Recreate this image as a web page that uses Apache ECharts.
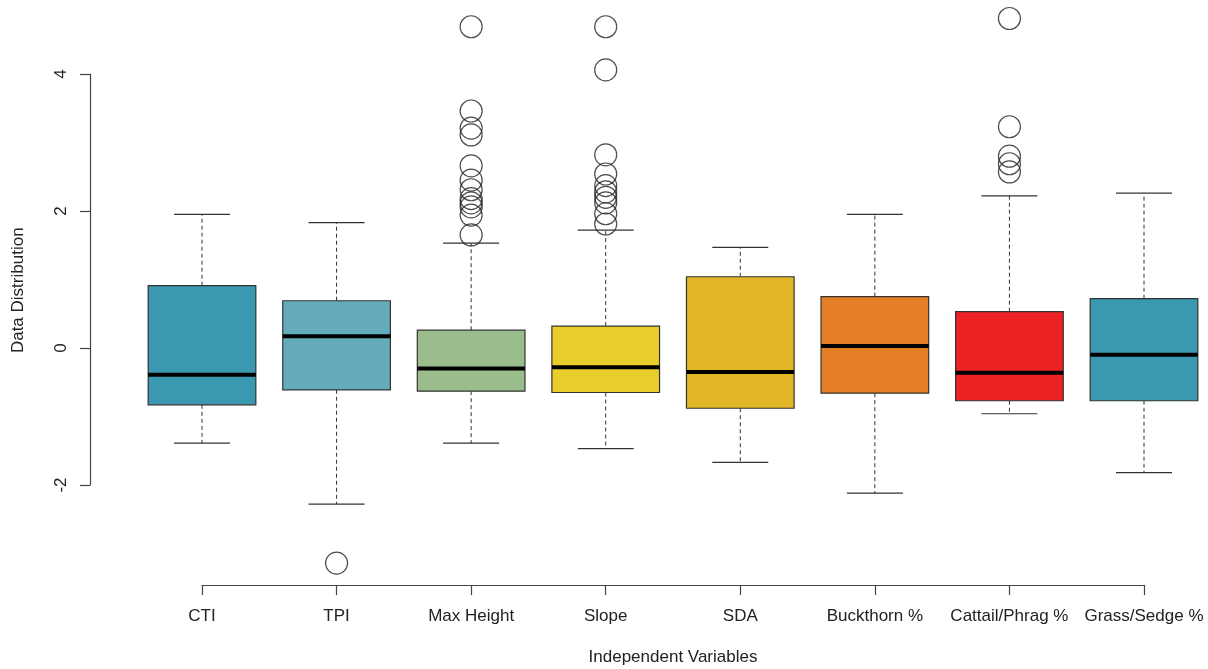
<!DOCTYPE html>
<html>
<head>
<meta charset="utf-8">
<script src="https://cdn.jsdelivr.net/npm/echarts@6/dist/echarts.min.js"></script>
<style>
  html, body { margin: 0; padding: 0; background: #fff; }
  #chart { width: 1208px; height: 669px; }
</style>
</head>
<body>
<div id="chart"></div>
<script>
// Standardised predictor distributions
const categories = ['CTI', 'TPI', 'Max Height', 'Slope', 'SDA', 'Buckthorn %', 'Cattail/Phrag %', 'Grass/Sedge %'];
const lowerWhisker = [-1.39, -2.28, -1.39, -1.47, -1.67, -2.12, -0.96, -1.82];
const lowerQuartile = [-0.83, -0.61, -0.63, -0.65, -0.88, -0.66, -0.77, -0.77];
const medians = [-0.39, 0.17, -0.30, -0.28, -0.35, 0.03, -0.36, -0.10];
const upperQuartile = [0.91, 0.69, 0.26, 0.32, 1.04, 0.75, 0.53, 0.72];
const upperWhisker = [1.95, 1.83, 1.53, 1.72, 1.47, 1.95, 2.22, 2.26];
const outliers = {
  'TPI': [-3.14],
  'Max Height': [4.69, 3.46, 3.21, 3.11, 2.66, 2.45, 2.31, 2.18, 2.12, 2.06, 1.94, 1.65],
  'Slope': [4.69, 4.06, 2.82, 2.54, 2.37, 2.28, 2.20, 2.12, 1.96, 1.81],
  'Cattail/Phrag %': [4.81, 3.23, 2.80, 2.69, 2.57]
};
const yTicks = [-2, 0, 2, 4];

const boxColors = ['#3b98b1', '#64abbc', '#9bbd8b', '#e9cd2b', '#e1b627', '#e57f27', '#ec2225', '#3b98b1'];
const font = 'Liberation Sans, Arial, sans-serif';

const boxData = categories.map((c, i) => [i, lowerWhisker[i], lowerQuartile[i], medians[i], upperQuartile[i], upperWhisker[i]]);
const outlierData = [];
categories.forEach((c, i) => (outliers[c] || []).forEach(v => outlierData.push([i, v])));

function renderBox(params, api) {
  const i = api.value(0);
  const pLow = api.coord([i, api.value(1)]);
  const pQ1 = api.coord([i, api.value(2)]);
  const pMed = api.coord([i, api.value(3)]);
  const pQ3 = api.coord([i, api.value(4)]);
  const pHigh = api.coord([i, api.value(5)]);
  const band = api.size([1, 0])[0];
  const half = band * 0.4;
  const cap = half * 0.52;
  const x = pMed[0];
  const edge = '#333';
  const dash = { stroke: edge, lineWidth: 1, lineDash: [4, 3] };
  const solid = { stroke: edge, lineWidth: 1.2 };
  return {
    type: 'group',
    children: [
      { type: 'line', shape: { x1: x, y1: pQ3[1], x2: x, y2: pHigh[1] }, style: dash },
      { type: 'line', shape: { x1: x, y1: pQ1[1], x2: x, y2: pLow[1] }, style: dash },
      { type: 'line', shape: { x1: x - cap, y1: pHigh[1], x2: x + cap, y2: pHigh[1] }, style: solid },
      { type: 'line', shape: { x1: x - cap, y1: pLow[1], x2: x + cap, y2: pLow[1] }, style: solid },
      { type: 'rect', shape: { x: x - half, y: pQ3[1], width: half * 2, height: pQ1[1] - pQ3[1] },
        style: { fill: boxColors[params.dataIndex], stroke: edge, lineWidth: 1.2 } },
      { type: 'line', shape: { x1: x - half, y1: pMed[1], x2: x + half, y2: pMed[1] },
        style: { stroke: '#000', lineWidth: 4 } }
    ]
  };
}

const chart = echarts.init(document.getElementById('chart'), null, { renderer: 'canvas' });
chart.setOption({
  animation: false,
  backgroundColor: '#fff',
  grid: [
    { left: 202, right: 64, top: 5.5, bottom: 84, outerBoundsMode: 'none' },
    { left: 90, right: 64, top: 74, bottom: 184, outerBoundsMode: 'none' }
  ],
  xAxis: [
    {
      gridIndex: 0, type: 'category', data: categories, boundaryGap: false,
      axisLine: { onZero: false, lineStyle: { color: '#444', width: 1.2 } },
      axisTick: { length: 10, interval: 0, lineStyle: { color: '#444', width: 1.2 } },
      axisLabel: { color: '#222', fontSize: 17, fontFamily: font, margin: 23, interval: 0 },
      splitLine: { show: false },
      name: 'Independent Variables', nameLocation: 'middle', nameGap: 64,
      nameTextStyle: { color: '#222', fontSize: 17, fontFamily: font }
    },
    { gridIndex: 1, type: 'value', show: false }
  ],
  yAxis: [
    {
      gridIndex: 0, type: 'value', min: -3.46, max: 5,
      axisLine: { show: false }, axisTick: { show: false }, axisLabel: { show: false },
      splitLine: { show: false },
      name: 'Data Distribution', nameLocation: 'middle', nameGap: 175, nameRotate: 90,
      nameTextStyle: { color: '#222', fontSize: 17, fontFamily: font, padding: [0, 0, 0, 10] }
    },
    {
      gridIndex: 1, type: 'value', min: yTicks[0], max: yTicks[yTicks.length - 1], interval: 2,
      axisLine: { show: true, onZero: false, lineStyle: { color: '#444', width: 1.2 } },
      axisTick: { show: true, length: 10, lineStyle: { color: '#444', width: 1.2 } },
      axisLabel: { color: '#222', fontSize: 17, fontFamily: font, rotate: 90, margin: 20 },
      splitLine: { show: false }
    }
  ],
  series: [
    {
      type: 'custom', xAxisIndex: 0, yAxisIndex: 0,
      renderItem: renderBox, data: boxData,
      encode: { x: 0, y: [1, 2, 3, 4, 5] }
    },
    {
      type: 'scatter', xAxisIndex: 0, yAxisIndex: 0, data: outlierData,
      symbol: 'circle', symbolSize: 22, clip: false,
      itemStyle: { color: 'rgba(0,0,0,0)', borderColor: '#222', borderWidth: 1.2 }
    }
  ]
});
</script>
</body>
</html>
